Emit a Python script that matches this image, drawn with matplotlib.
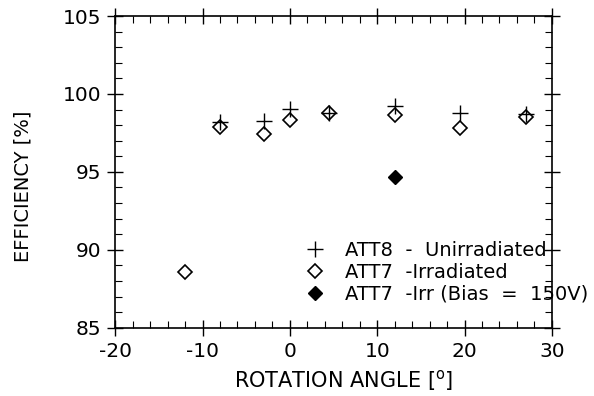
import matplotlib
matplotlib.use("Agg")
import matplotlib.pyplot as plt
from matplotlib.ticker import MultipleLocator

plt.rcParams["font.family"] = ["DejaVu Sans"]
plt.rcParams["axes.unicode_minus"] = False

# ATT8 - Unirradiated
unirr_angle = [-8, -3, 0, 4.5, 12, 19.5, 27]
unirr_eff = [98.2, 98.25, 99.05, 98.75, 99.2, 98.75, 98.7]

# ATT7 - Irradiated
irr_angle = [-12, -8, -3, 0, 4.5, 12, 19.5, 27]
irr_eff = [88.55, 97.85, 97.45, 98.35, 98.75, 98.65, 97.8, 98.55]

# ATT7 - Irr (Bias = 150V)
bias_angle = [12]
bias_eff = [94.7]

fig = plt.figure(figsize=(5.94, 3.96), dpi=100)
ax = fig.add_axes([0.194, 0.1725, 0.735, 0.787])

ax.plot(unirr_angle, unirr_eff, linestyle="none", marker="+", markersize=11,
        markeredgewidth=1.0, color="black", label="ATT8  -  Unirradiated")
ax.plot(irr_angle, irr_eff, linestyle="none", marker="D", markersize=7.5,
        markerfacecolor="none", markeredgecolor="black", markeredgewidth=1.2,
        label="ATT7  -Irradiated")
ax.plot(bias_angle, bias_eff, linestyle="none", marker="D", markersize=7.5,
        color="black", label="ATT7  -Irr (Bias  =  150V)")

ax.set_xlim(-20, 30)
ax.set_ylim(85, 105)
ax.xaxis.set_major_locator(MultipleLocator(10))
ax.xaxis.set_minor_locator(MultipleLocator(2))
ax.yaxis.set_major_locator(MultipleLocator(5))
ax.yaxis.set_minor_locator(MultipleLocator(1))
ax.tick_params(which="major", direction="inout", length=12, width=1.0,
               top=True, right=True, labelsize=14.5, pad=4)
ax.tick_params(which="minor", direction="in", length=5, width=0.8,
               top=True, right=True)
for s in ax.spines.values():
    s.set_linewidth(1.2)

ax.set_xlabel("ROTATION ANGLE [$^\\mathrm{o}$]", fontsize=15)
ax.set_ylabel("EFFICIENCY [%]", fontsize=14)
ax.xaxis.set_label_coords(0.524, -0.128)
ax.yaxis.set_label_coords(-0.19, 0.455)

ax.legend(loc="upper left", bbox_to_anchor=(0.396, 0.304), frameon=False,
          fontsize=14, handletextpad=0.5, labelspacing=0.15, borderaxespad=0)

fig.savefig("out.png", dpi=100)
